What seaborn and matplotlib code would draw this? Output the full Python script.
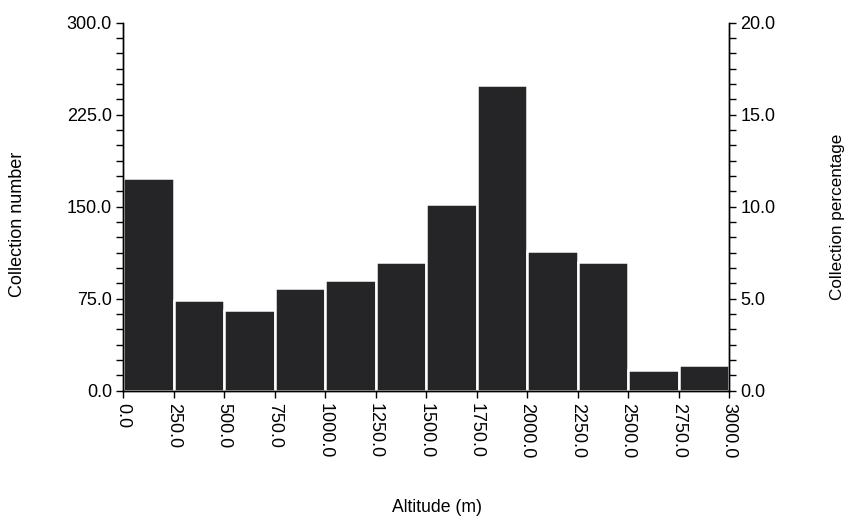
# Altitude distribution of collections - histogram with twin y axis

import numpy as np
import pandas as pd
import matplotlib
matplotlib.use("Agg")
import matplotlib.pyplot as plt
from matplotlib.ticker import MultipleLocator, FormatStrFormatter
import seaborn as sns

# Data
bin_edges = [0, 250, 500, 750, 1000, 1250, 1500, 1750, 2000, 2250, 2500, 2750, 3000]
bin_mids = [125, 375, 625, 875, 1125, 1375, 1625, 1875, 2125, 2375, 2625, 2875]
counts = [173, 74, 66, 84, 90, 105, 152, 249, 114, 105, 17, 21]

df = pd.DataFrame({"altitude": bin_mids, "count": counts})

sns.set_style("ticks")
plt.rcParams["font.family"] = ["Liberation Sans", "DejaVu Sans"]
plt.rcParams["font.size"] = 13
plt.rcParams["text.color"] = "black"
plt.rcParams["xtick.color"] = "black"
plt.rcParams["ytick.color"] = "black"
plt.rcParams["axes.labelcolor"] = "black"

fig = plt.figure(figsize=(8.53, 5.18), dpi=100)
ax = fig.add_axes([0.1443, 0.2457, 0.7104, 0.7105])

sns.histplot(data=df, x="altitude", weights="count", bins=bin_edges,
             color="#252527", alpha=1, edgecolor="white",
             linewidth=1.8, ax=ax)

ax.set_xlim(0, 3000)
ax.set_ylim(0, 300)
ax.xaxis.set_major_locator(MultipleLocator(250))
ax.xaxis.set_major_formatter(FormatStrFormatter("%.1f"))
ax.yaxis.set_major_locator(MultipleLocator(75))
ax.yaxis.set_minor_locator(MultipleLocator(12.5))
ax.yaxis.set_major_formatter(FormatStrFormatter("%.1f"))
ax.tick_params(axis="x", labelrotation=-90, length=5, width=1, pad=4)
ax.tick_params(axis="y", which="both", length=5, width=1, pad=3)
for lbl in ax.get_xticklabels():
    lbl.set_va("top")

ax2 = ax.twinx()
ax2.set_ylim(0, 20)
ax2.yaxis.set_major_locator(MultipleLocator(5))
ax2.yaxis.set_minor_locator(MultipleLocator(5 / 6))
ax2.yaxis.set_major_formatter(FormatStrFormatter("%.1f"))
ax2.tick_params(axis="y", which="both", length=5, width=1, pad=3)

for a in (ax, ax2):
    a.spines["top"].set_visible(False)
    for s in ("left", "right", "bottom"):
        a.spines[s].set_color("black")
        a.spines[s].set_linewidth(1)
ax2.spines["right"].set_visible(True)

ax.set_xlabel("Altitude (m)", fontsize=12.7)
ax.set_ylabel("Collection number", fontsize=13)
ax2.set_ylabel("Collection percentage", fontsize=12.3)
ax.xaxis.set_label_coords(0.518, -0.295)
ax.yaxis.set_label_coords(-0.16, 0.453)
ax2.yaxis.set_label_coords(1.167, 0.472)

fig.savefig("out.png", dpi=100)
